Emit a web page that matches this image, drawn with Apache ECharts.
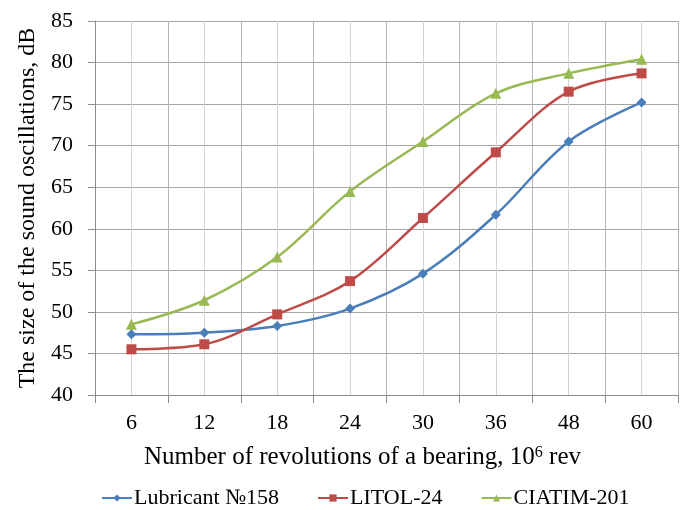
<!DOCTYPE html>
<html>
<head>
<meta charset="utf-8">
<script src="https://cdn.jsdelivr.net/npm/echarts@6/dist/echarts.min.js"></script>
<style>html,body{margin:0;padding:0;background:#fff;}#c{width:680px;height:510px;}</style>
</head>
<body>
<div id="c"></div>
<script>
const categories = ['6', '12', '18', '24', '30', '36', '48', '60'];
const lubricant158 = [47.3, 47.5, 48.3, 50.4, 54.6, 61.7, 70.5, 75.2];
const litol24 = [45.5, 46.1, 49.7, 53.7, 61.3, 69.2, 76.5, 78.7];
const ciatim201 = [48.5, 51.4, 56.6, 64.5, 70.5, 76.3, 78.7, 80.4];
const seriesNames = ['Lubricant №158', 'LITOL-24', 'CIATIM-201'];

const font = 'Liberation Serif, Times New Roman, serif';
const chart = echarts.init(document.getElementById('c'));
function mk(name, data, color, symbol, size) {
  return {
    name: name, type: 'line', data: data, smooth: 0.35,
    xAxisIndex: 0, yAxisIndex: 0,
    symbol: symbol, symbolSize: size,
    lineStyle: { color: color, width: 2.5 },
    itemStyle: { color: color },
    emphasis: { disabled: true }
  };
}
chart.setOption({
  animation: false,
  backgroundColor: '#fff',
  textStyle: { fontFamily: font },
  grid: { left: 95, right: 2, top: 21, bottom: 115 },
  legend: {
    top: 482, left: 96,
    itemWidth: 30, itemHeight: 9, itemGap: 38,
    textStyle: { fontFamily: font, fontSize: 22, color: '#000', padding: [0, 0, 0, -3] },
    data: seriesNames
  },
  xAxis: [{
    type: 'category', data: categories, boundaryGap: true,
    name: '{s|Number of revolutions of a bearing, 10}{sup|6}{s| rev}',
    nameLocation: 'middle', nameGap: 50,
    nameTextStyle: {
      fontFamily: font, fontSize: 25, color: '#000', padding: [0, 48, 0, 0],
      rich: {
        s: { fontFamily: font, fontSize: 25, color: '#000' },
        sup: { fontFamily: font, fontSize: 16, color: '#000', verticalAlign: 'top', padding: [0, 0, 9, 0] }
      }
    },
    axisLine: { lineStyle: { color: '#8c8c8c', width: 1 } },
    axisTick: { show: true, length: 8, interval: 0, lineStyle: { color: '#8c8c8c' } },
    axisLabel: { fontFamily: font, fontSize: 22, color: '#000', margin: 17, interval: 0 },
    splitLine: { show: false }
  }, {
    type: 'value', min: 0, max: 16, interval: 1, show: true, position: 'bottom',
    axisLine: { show: false }, axisTick: { show: false }, axisLabel: { show: false },
    splitLine: { show: true, lineStyle: { color: ['#b4b4b4', '#d4d4d4'], width: 1 } }
  }],
  yAxis: {
    type: 'value', min: 40, max: 85, interval: 5,
    name: 'The size of the sound oscillations, dB',
    nameLocation: 'middle', nameGap: 53,
    nameTextStyle: { fontFamily: font, fontSize: 24, color: '#000' },
    axisLine: { show: true, lineStyle: { color: '#8c8c8c', width: 1 } },
    axisTick: { show: true, length: 7, inside: false, lineStyle: { color: '#8c8c8c' } },
    axisLabel: { fontFamily: font, fontSize: 22, color: '#000', margin: 22 },
    splitLine: { show: true, lineStyle: { color: '#a6a6a6', width: 1 } }
  },
  series: [
    mk(seriesNames[0], lubricant158, '#4a7ebb', 'diamond', 10),
    mk(seriesNames[1], litol24, '#be4b48', 'rect', 10),
    mk(seriesNames[2], ciatim201, '#98b954', 'triangle', 11)
  ]
});
</script>
</body>
</html>
